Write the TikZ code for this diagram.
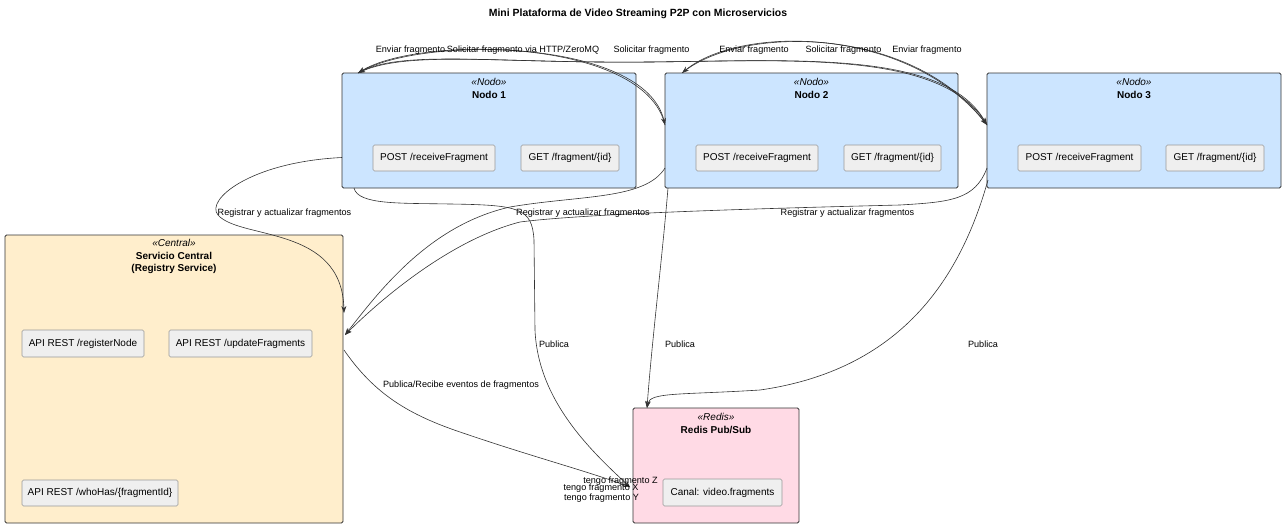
\documentclass[tikz,border=0pt]{standalone}
\usepackage{fontspec}
\setmainfont{Liberation Sans}
\usetikzlibrary{arrows.meta,calc}
\definecolor{nodofill}{HTML}{CCE5FF}
\definecolor{centralfill}{HTML}{FFEECC}
\definecolor{redisfill}{HTML}{FFDAE5}
\definecolor{innerfill}{HTML}{EFEFEF}
\definecolor{innerdraw}{HTML}{999999}
\definecolor{edgecol}{HTML}{333333}
\newcommand{\lblfont}{\fontsize{9.1}{11}\selectfont}
\newcommand{\boxfont}{\fontsize{10}{12}\selectfont}
\begin{document}
\begin{tikzpicture}[x=1pt,y=-1pt,
  box/.style={draw=edgecol, line width=0.8pt, rounded corners=1.5pt, anchor=north west, inner sep=0pt, outer sep=0pt},
  innerbox/.style={draw=innerdraw, line width=0.6pt, fill=innerfill, rounded corners=1.5pt, anchor=north west, inner sep=0pt, outer sep=0pt, font=\boxfont},
  lbl/.style={font=\lblfont, inner sep=0pt},
  stereo/.style={font=\boxfont\itshape, inner sep=0pt},
  ttl/.style={font=\boxfont\bfseries, inner sep=0pt, align=center},
  conn/.style={draw=edgecol, line width=0.6pt, -{Stealth[length=7pt,width=5pt]}},
]
\useasboundingbox (0,0) rectangle (1286,528);

% title
\node[font=\fontsize{10.45}{12}\selectfont\bfseries, inner sep=0pt] (title) at (638,14) {Mini Plataforma de Video Streaming P2P con Microservicios};

% Nodo 1
\node[box, fill=nodofill, minimum width=294pt, minimum height=115pt] (n1) at (342,73) {};
\node[stereo] (n1s) at (489,82) {«Nodo»};
\node[ttl] (n1t) at (489,95) {Nodo 1};
\node[innerbox, minimum width=122pt, minimum height=26pt] (n1post) at (373,145) {POST /receiveFragment};
\node[innerbox, minimum width=98pt, minimum height=26pt] (n1get) at (521,145) {GET /fragment/\{id\}};

% Nodo 2
\node[box, fill=nodofill, minimum width=293pt, minimum height=115pt] (n2) at (665,73) {};
\node[stereo] (n2s) at (811.5,82) {«Nodo»};
\node[ttl] (n2t) at (811.5,95) {Nodo 2};
\node[innerbox, minimum width=122pt, minimum height=26pt] (n2post) at (696,145) {POST /receiveFragment};
\node[innerbox, minimum width=97pt, minimum height=26pt] (n2get) at (844,145) {GET /fragment/\{id\}};

% Nodo 3
\node[box, fill=nodofill, minimum width=294pt, minimum height=115pt] (n3) at (987,73) {};
\node[stereo] (n3s) at (1134,82) {«Nodo»};
\node[ttl] (n3t) at (1134,95) {Nodo 3};
\node[innerbox, minimum width=123pt, minimum height=26pt] (n3post) at (1018,145) {POST /receiveFragment};
\node[innerbox, minimum width=98pt, minimum height=26pt] (n3get) at (1166,145) {GET /fragment/\{id\}};

% Central
\node[box, fill=centralfill, minimum width=338pt, minimum height=288pt] (central) at (5,235) {};
\node[stereo] (cs) at (174,243) {«Central»};
\node[ttl] (ct) at (174,262.5) {Servicio Central\\(Registry Service)};
\node[innerbox, minimum width=122pt, minimum height=27pt] (reg) at (22,330) {API REST /registerNode};
\node[innerbox, minimum width=143pt, minimum height=27pt] (upd) at (169,330) {API REST /updateFragments};
\node[innerbox, minimum width=156pt, minimum height=26pt] (who) at (22,480) {API REST /whoHas/\{fragmentId\}};

% Redis
\node[box, fill=redisfill, minimum width=166pt, minimum height=115pt] (redis) at (633,408) {};
\node[stereo] (rs) at (716,417) {«Redis»};
\node[ttl] (rt) at (716,430) {Redis Pub/Sub};
\node[innerbox, minimum width=119pt, minimum height=27pt] (canal) at (663,479) {Canal: video.fragments};

% endpoints
\coordinate (n1top) at ($(n1.north west)+(16,0)$);
\coordinate (n2left) at ($(n2.north west)+(0,52)$);
\coordinate (n2top) at ($(n2.north west)+(17,0)$);
\coordinate (n3left) at ($(n3.north west)+(0,52)$);
\coordinate (redisin) at ($(redis.south west)+(-3,-36)$);
\coordinate (redistop) at ($(redis.north west)+(14,0)$);
\coordinate (centralin1) at ($(central.north east)+(1,78)$);
\coordinate (centralin2) at ($(central.north east)+(2,100)$);
\coordinate (centralout) at ($(central.north east)+(1,115)$);

% peer edges (top)
\draw[conn] (n1top) .. controls (420,35) and (645,38) .. (n2left);
\draw[conn] (n2left) .. controls (645,38) and (420,35) .. (n1top);
\draw[conn] (n1top) .. controls (400,52) and (480,61) .. (600,62) .. controls (760,64) and (940,42) .. (n3left);
\draw[conn] (n3left) .. controls (940,42) and (760,64) .. (600,62) .. controls (480,61) and (400,52) .. (n1top);
\draw[conn] (n2top) .. controls (740,25) and (910,25) .. (n3left);
\draw[conn] (n3left) .. controls (910,25) and (740,25) .. (n2top);

\node[lbl] (l1) at (410.5,50) {Enviar fragmento};
\node[lbl] (l2) at (523,50) {Solicitar fragmento via HTTP/ZeroMQ};
\node[lbl] (l3) at (651.5,50) {Solicitar fragmento};
\node[lbl] (l4) at (754,50) {Enviar fragmento};
\node[lbl] (l5) at (843.5,50) {Solicitar fragmento};
\node[lbl] (l6) at (927,50) {Enviar fragmento};

% registrar edges
\draw[conn] ($(n1.west)+(0,27)$) .. controls (250,162) and (205,200) .. (218,215) .. controls (240,240) and (342,225) .. (centralin1);
\draw[conn] ($(n2.south west)+(0,-20)$) .. controls (645,200) and (580,195) .. (510,207) .. controls (430,225) and (380,290) .. (centralin2);
\draw[conn] ($(n3.south west)+(0,-20)$) .. controls (975,200) and (950,202) .. (900,205) .. controls (780,208) and (590,213) .. (520,222) .. controls (450,240) and (380,300) .. (centralin2);

\node[lbl] (r1) at (284.5,213) {Registrar y actualizar fragmentos};
\node[lbl] (r2) at (583,213) {Registrar y actualizar fragmentos};
\node[lbl] (r3) at (847.5,213) {Registrar y actualizar fragmentos};

% publica edges
\draw[conn] ($(n1.south west)+(12,0)$) .. controls (358,205) and (400,203) .. (450,204) .. controls (520,205) and (532,208) .. (534,240) -- (535,330) .. controls (538,400) and (590,450) .. (redisin);
\draw[conn] ($(n2.south west)+(3,0)$) .. controls (662,260) and (652,340) .. (redistop);
\draw[conn] ($(n3.south west)+(1,-8)$) .. controls (960,280) and (900,370) .. (760,390) .. controls (680,395) and (650,392) .. (redistop);
\draw[conn] (centralout) .. controls (375,395) and (410,415) .. (460,432) .. controls (530,456) and (590,472) .. (redisin);

\node[lbl] (p1) at (554,344) {Publica};
\node[lbl] (p2) at (680,344) {Publica};
\node[lbl] (p3) at (983,344) {Publica};
\node[lbl] (pr) at (461,385) {Publica/Recibe eventos de fragmentos};
\node[lbl] (tz) at (620.5,481) {tengo fragmento Z};
\node[lbl] (tx) at (601,488) {tengo fragmento X};
\node[lbl] (ty) at (601.5,498) {tengo fragmento Y};
\end{tikzpicture}
\end{document}
